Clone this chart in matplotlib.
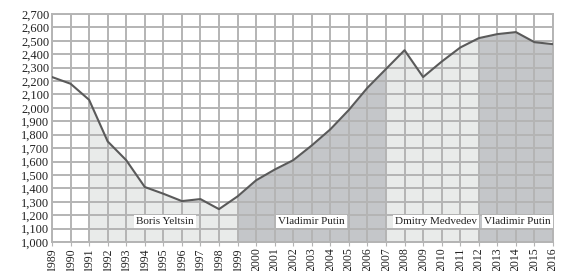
import matplotlib
matplotlib.use("Agg")
import matplotlib.pyplot as plt
import numpy as np

years = list(range(1989, 2017))
values = [2230, 2180, 2060, 1750, 1610, 1410, 1360, 1305, 1320, 1245,
          1340, 1460, 1540, 1610, 1720, 1840, 1985, 2150, 2290, 2430,
          2230, 2345, 2450, 2520, 2550, 2565, 2490, 2475]

# (start year, end year, label, label centre year, shade)
terms = [
    (1991, 1999, "Boris Yeltsin", 1995.1, "light"),
    (1999, 2007, "Vladimir Putin", 2003.0, "dark"),
    (2007, 2012, "Dmitry Medvedev", 2009.7, "light"),
    (2012, 2016, "Vladimir Putin", 2014.1, "dark"),
]
shades = {"light": "#e9ebea", "dark": "#c4c6c9"}

plt.rcParams["font.family"] = ["Liberation Serif", "DejaVu Serif"]

fig = plt.figure(figsize=(5.69, 2.71), dpi=100)
ax = fig.add_axes([52 / 569, 1 - 242 / 271, 501 / 569, 228 / 271])

x = np.array(years)
y = np.array(values)
for start, end, name, cx, shade in terms:
    m = (x >= start) & (x <= end)
    ax.fill_between(x[m], 1000, y[m], color=shades[shade], lw=0, zorder=1)
    ax.text(cx, 1150, name, ha="center", va="center", fontsize=8, color="#222222",
            zorder=4, bbox=dict(facecolor="white", edgecolor="none", pad=1.5))

ax.plot(x, y, color="#5a5a5a", lw=1.5, zorder=3)

ax.set_xlim(1989, 2016)
ax.set_ylim(1000, 2700)
ax.set_xticks(years)
ax.set_xticklabels([str(v) for v in years], rotation=90, fontsize=8.5)
yt = list(range(1000, 2701, 100))
ax.set_yticks(yt)
ax.set_yticklabels([f"{v:,}" for v in yt], fontsize=9)
ax.grid(True, color="#b4b4b4", lw=1.4)
ax.set_axisbelow(False)
for s in ax.spines.values():
    s.set_color("#b4b4b4")
    s.set_linewidth(1.4)
ax.tick_params(axis="x", length=3, color="#b4b4b4", pad=1, labelcolor="#222222")
ax.tick_params(axis="y", length=0, pad=2, labelcolor="#222222")

fig.savefig("out.png", dpi=100)
